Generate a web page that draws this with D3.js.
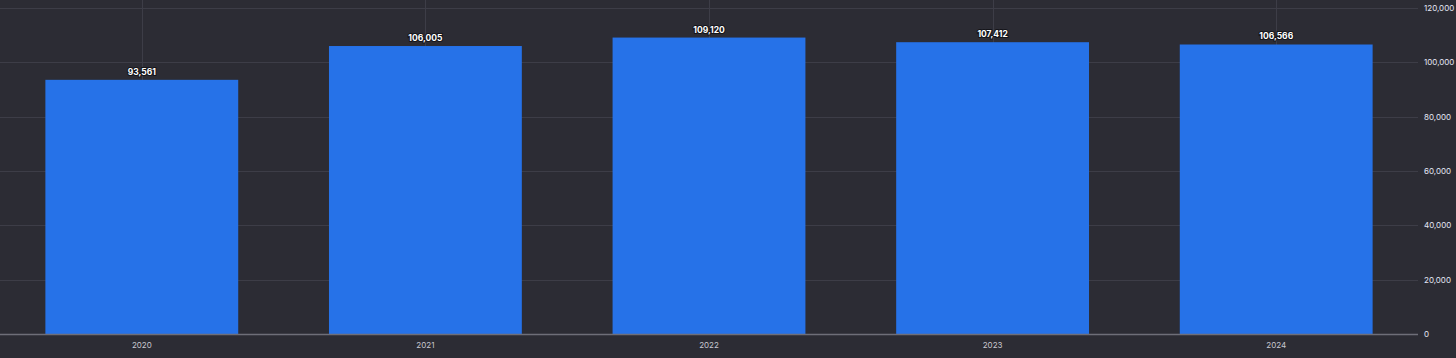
<!DOCTYPE html>
<html>
<head>
<meta charset="utf-8">
<script src="https://cdn.jsdelivr.net/npm/d3@7"></script>
<style>
  html, body { margin: 0; padding: 0; background: #2c2c34; }
  svg { display: block; }
  text { font-family: Inter, "Open Sans", sans-serif; }
</style>
</head>
<body>
<script>
var width = 1456;
var height = 358;
var margin = {top: 8, right: 38, bottom: 24, left: 0};
var w = width - margin.left - margin.right;
var h = height - margin.top - margin.bottom;

var years = ["2020", "2021", "2022", "2023", "2024"];
var values = [93561, 106005, 109120, 107412, 106566];
var yTicks = [0, 20000, 40000, 60000, 80000, 100000, 120000];

var svg = d3.select("body").append("svg")
    .attr("width", width)
    .attr("height", height)
    .style("background", "#2c2c34");

var chart = svg.append("g")
    .attr("transform", "translate(" + margin.left + "," + margin.top + ")");

var x = d3.scaleBand()
    .domain(years)
    .range([0, w])
    .paddingInner(0.32)
    .paddingOuter(0.16);

var y = d3.scaleLinear()
    .domain([0, 120000])
    .range([h, 0]);

// horizontal grid
chart.append("g")
    .selectAll("line")
    .data(yTicks)
    .enter().append("line")
    .attr("x1", 0)
    .attr("x2", w)
    .attr("y1", function(d) { return Math.round(y(d)) + 0.5; })
    .attr("y2", function(d) { return Math.round(y(d)) + 0.5; })
    .attr("stroke", "#3d3d47")
    .attr("stroke-width", 1);

// vertical grid at category centres
chart.append("g")
    .selectAll("line")
    .data(years)
    .enter().append("line")
    .attr("x1", function(d) { return Math.round(x(d) + x.bandwidth() / 2) + 0.5; })
    .attr("x2", function(d) { return Math.round(x(d) + x.bandwidth() / 2) + 0.5; })
    .attr("y1", -margin.top)
    .attr("y2", h)
    .attr("stroke", "#3d3d47")
    .attr("stroke-width", 1);

// bars
chart.selectAll("rect.bar")
    .data(values)
    .enter().append("rect")
    .attr("class", "bar")
    .attr("x", function(d, i) { return x(years[i]); })
    .attr("y", function(d) { return y(d); })
    .attr("width", x.bandwidth())
    .attr("height", function(d) { return h - y(d); })
    .attr("fill", "#2672e8");

// baseline
chart.append("line")
    .attr("x1", 0)
    .attr("x2", w)
    .attr("y1", h + 0.5)
    .attr("y2", h + 0.5)
    .attr("stroke", "#6e6e78")
    .attr("stroke-width", 1.5);

// value labels
chart.selectAll("text.val")
    .data(values)
    .enter().append("text")
    .attr("class", "val")
    .attr("x", function(d, i) { return x(years[i]) + x.bandwidth() / 2; })
    .attr("y", function(d) { return y(d) - 5; })
    .attr("text-anchor", "middle")
    .attr("font-size", "8.5px")
    .attr("font-weight", "bold")
    .attr("fill", "#ffffff")
    .attr("stroke", "#15151a")
    .attr("stroke-width", 2)
    .attr("paint-order", "stroke")
    .text(function(d) { return d3.format(",")(d); });

// x axis labels
var xAxis = d3.axisBottom(x).tickSize(0).tickPadding(8);
var gx = chart.append("g")
    .attr("transform", "translate(0," + h + ")")
    .call(xAxis);
gx.select(".domain").remove();
gx.selectAll("text")
    .attr("font-size", "8px")
    .attr("fill", "#c8c8d0")
    .style("font-family", "Inter, 'Open Sans', sans-serif");

// y axis labels on the right
var yAxis = d3.axisRight(y).tickValues(yTicks).tickSize(0).tickPadding(6).tickFormat(d3.format(","));
var gy = chart.append("g")
    .attr("transform", "translate(" + w + ",0)")
    .call(yAxis);
gy.select(".domain").remove();
gy.selectAll("text")
    .attr("font-size", "8px")
    .attr("fill", "#e4e6f4")
    .style("font-family", "Inter, 'Open Sans', sans-serif");
</script>
</body>
</html>
